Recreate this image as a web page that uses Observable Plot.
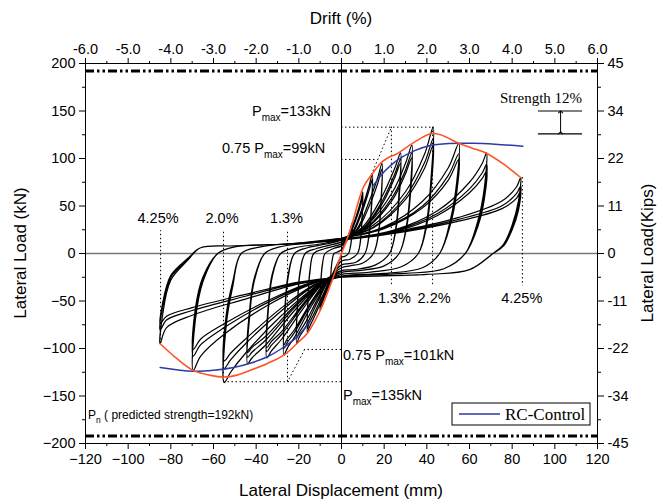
<!DOCTYPE html>
<html><head><meta charset="utf-8">
<script src="https://cdn.jsdelivr.net/npm/d3@7"></script>
<script src="https://cdn.jsdelivr.net/npm/@observablehq/plot@0.6"></script>
<style>body{margin:0;background:#fff} svg{display:block}</style>
</head><body><div id="chart"></div>
<script>
// ---------- axis ticks and labels ----------
const dispTicks = [-120,-100,-80,-60,-40,-20,0,20,40,60,80,100,120];
const dispMinor = [-110,-90,-70,-50,-30,-10,10,30,50,70,90,110];
const driftLabels = ["-6.0","-5.0","-4.0","-3.0","-2.0","-1.0","0.0","1.0","2.0","3.0","4.0","5.0","6.0"];
const loadTicks = [-200,-150,-100,-50,0,50,100,150,200];
const loadMinor = [-175,-125,-75,-25,25,75,125,175];
const kipLabels = ["-45","-34","-22","-11","0","11","22","34","45"];

// ---------- hysteresis loops (displacement mm, load kN), flat x,y pairs ----------
const loop5 = [0,4, 2,12, 4,24, 5,32, 4.8,18, 4,5, 3.3,0, 1.5,-3, 0,-4, -2,-12, -4,-22, -5,-30, -4.8,-16, -4.2,-5, -3.5,0, -1.5,2, 0,4,
  2,11, 4,22, 5,30, 4.8,17, 4,5, 3.3,0, 1.5,-3, 0,-4, -2,-11, -4,-21, -5,-28, -4.8,-15, -4.2,-5, -3.5,0, -1.5,2, 0,4];
const loop10 = [0,8, 3.5,20, 7,40, 9,55, 10,65, 9.6,38, 9,16, 7.5,0, 4,-6, 0,-8, -3,-18, -6,-35, -9,-52, -10,-60, -9.7,-32, -9,-13, -7.7,0, -4,5, 0,8,
  3.5,18, 7,37, 9,51, 10,60, 9.6,35, 9,15, 7.5,0, 4,-6, 0,-8, -3,-17, -6,-33, -9,-49, -10,-56, -9.7,-30, -9,-12, -7.7,0, -4,5, 0,8];
const loop15 = [0,10, 5,22, 10,50, 13,72, 14.5,84, 14,50, 13,22, 11,0, 7,-9, 2,-11, 0,-12, -4,-22, -8,-43, -13,-68, -15.3,-79, -16,-84, -15.6,-45, -14.8,-20, -13,0, -8,5, -3,8, 0,10,
  5,20, 10,46, 13,67, 14.5,78, 14,46, 13,20, 11,0, 7,-9, 2,-11, 0,-12, -4,-21, -8,-40, -13,-64, -15.3,-74, -16,-79, -15.6,-42, -14.8,-18, -13,0, -8,5, -3,8, 0,10];
const loop20 = [0,12, 7,25, 13,55, 17,80, 19,95, 18.5,55, 17.5,25, 15,0, 10,-10, 4,-13, 0,-15, -5,-25, -11,-50, -17,-78, -20,-89, -21,-95, -20.5,-50, -19.5,-22, -17,0, -12,5, -5,9, 0,12,
  7,23, 13,50, 17,74, 19,89, 18.5,52, 17.5,23, 15,0, 10,-10, 4,-13, 0,-15, -5,-24, -11,-47, -17,-73, -20,-84, -21,-89, -20.5,-47, -19.5,-20, -17,0, -12,5, -5,9, 0,12];
const loop27 = [0,14, 10,28, 19,60, 25,90, 27.7,106, 27,65, 25.5,28, 22.5,0, 16,-12, 6,-17, 0,-18, -6,-28, -14,-55, -22,-88, -25.5,-100, -27,-107, -26.4,-58, -25,-25, -22,0, -16,6, -7,10, 0,14,
  10,26, 19,55, 25,84, 27.7,99, 27,61, 25.5,26, 22.5,0, 16,-12, 6,-17, 0,-18, -6,-27, -14,-52, -22,-83, -25.5,-94, -27,-100, -26.4,-55, -25,-23, -22,0, -16,6, -7,10, 0,14,
  10,25, 19,52, 25,80, 27.7,95, 27,58, 25.5,25, 22.5,0, 16,-12, 6,-17, 0,-18, -6,-26, -14,-50, -22,-80, -25.5,-90, -27,-96, -26.4,-53, -25,-22, -22,0, -16,6, -7,10, 0,14];
const loop34 = [0,15, 12,30, 24,65, 30,95, 33,114, 32.3,70, 30.5,30, 27,0, 20,-13, 8,-18, 0,-20, -8,-30, -18,-58, -28,-90, -33,-103, -35,-110, -34.3,-60, -32.5,-25, -28.5,0, -22,6, -10,10, 0,15,
  12,28, 24,60, 30,88, 33,106, 32.3,65, 30.5,28, 27,0, 20,-13, 8,-18, 0,-20, -8,-29, -18,-55, -28,-85, -33,-97, -35,-103, -34.3,-56, -32.5,-23, -28.5,0, -22,6, -10,10, 0,15,
  12,27, 24,57, 30,84, 33,101, 32.3,62, 30.5,27, 27,0, 20,-13, 8,-18, 0,-20, -8,-28, -18,-53, -28,-82, -33,-93, -35,-99, -34.3,-54, -32.5,-22, -28.5,0, -22,6, -10,10, 0,15];
const loop43 = [0,16, 15,30, 30,65, 39,105, 43,133, 42,80, 40,35, 36,0, 28,-14, 12,-20, 0,-22, -10,-33, -22,-60, -35,-95, -42,-110, -44,-116, -43,-65, -41,-30, -36,0, -29,7, -15,11, 0,16,
  15,28, 30,60, 39,96, 43,121, 42,73, 40,32, 36,0, 28,-14, 12,-20, 0,-22, -10,-32, -22,-57, -35,-90, -42,-104, -44,-109, -43,-61, -41,-28, -36,0, -29,7, -15,11, 0,16,
  15,27, 30,57, 39,90, 43,114, 42,69, 40,30, 36,0, 28,-14, 12,-20, 0,-22, -10,-31, -22,-55, -35,-86, -42,-99, -44,-104, -43,-58, -41,-27, -36,0, -29,7, -15,11, 0,16];
const loop55 = [0,16, 20,28, 38,55, 50,90, 55,116, 54,75, 51,35, 46,0, 38,-15, 20,-21, 0,-24, -12,-35, -28,-65, -45,-105, -52,-125, -55,-136, -54,-75, -51,-35, -47,0, -38,7, -20,11, 0,16,
  20,27, 38,50, 50,82, 55,105, 54,68, 51,32, 46,0, 38,-15, 20,-21, 0,-24, -12,-33, -28,-60, -45,-95, -52,-112, -55,-121, -54,-68, -51,-32, -47,0, -38,7, -20,11, 0,16,
  20,26, 38,48, 50,77, 55,99, 54,64, 51,30, 46,0, 38,-15, 20,-21, 0,-24, -12,-32, -28,-57, -45,-90, -52,-105, -55,-113, -54,-64, -51,-30, -47,0, -38,7, -20,11, 0,16];
const loop68 = [0,15, 25,25, 45,45, 60,75, 66,95, 68,106, 67,70, 64,35, 58,0, 48,-16, 30,-21, 0,-24, -15,-33, -35,-55, -55,-85, -66,-108, -69.5,-123, -68.5,-70, -65,-30, -58,0, -50,7, -25,10, 0,15,
  25,24, 45,42, 60,68, 66,85, 68,94, 67,62, 64,31, 58,0, 48,-16, 30,-21, 0,-24, -15,-32, -35,-52, -55,-78, -66,-96, -69.5,-108, -68.5,-62, -65,-27, -58,0, -50,7, -25,10, 0,15,
  25,23, 45,40, 60,64, 66,79, 68,87, 67,58, 64,29, 58,0, 48,-16, 30,-21, 0,-24, -15,-31, -35,-50, -55,-74, -66,-90, -69.5,-101, -68.5,-58, -65,-25, -58,0, -50,7, -25,10, 0,15];
const loop85 = [0,14, 30,25, 55,38, 75,55, 82,70, 84,80, 83,56, 80,30, 76,10, 71,0, 60,-17, 40,-22, 0,-25, -20,-32, -45,-48, -70,-65, -82,-78, -85,-95, -84,-67, -80,-28, -72,-7, -66,6, -50,8, -25,10, 0,14,
  30,24, 55,36, 75,50, 82,63, 84,71, 83,50, 80,27, 76,9, 71,0, 60,-17, 40,-22, 0,-25, -20,-31, -45,-45, -70,-60, -82,-70, -85,-81, -84,-58, -80,-25, -72,-6, -66,6, -50,8, -25,10, 0,14,
  30,23, 55,34, 75,47, 82,58, 84,66, 83,46, 80,25, 76,8, 71,0, 60,-17, 40,-22, 0,-25, -20,-30, -45,-43, -70,-57, -82,-66, -85,-74, -84,-54, -80,-23, -72,-5, -66,6, -50,8, -25,10, 0,14];

// ---------- envelopes ----------
const envX = [-85,-77,-69.5,-62,-55,-49,-42.7,-35,-27,-21,-16,-10,-5,0,4,10.3,14.5,18.3,22,26,34,41.7,46.4,55,61,67.5,76,84];
const envY = [-95,-111,-123,-128,-130,-128,-123,-116,-107,-95,-84,-60,-32,0,24,70,84,95,101,105,117,126,125,116,111,106,94,80];
const ctrlNegX = [-85,-69.5,-60,-50.6,-42,-35,-28,-21,-14.5];
const ctrlNegY = [-120,-124,-123,-120,-115,-109,-100,-88,-71];
const ctrlPosX = [14.5,20,26,34,42,46,55,62,72,85];
const ctrlPosY = [70,86,98,108,114,115,116,116,115,113];

// ---------- annotation values ----------
const predictedStrength = 192;
const hDotY = [133, 99, -135, -101];
const hDotX2 = [42.7, 17, -55.3, -17.3];
const vDotX = [23.4, 42.7, 84.8, -25.3, -55.3, -84.8];
const vDotY1 = [133, 133, 80, -135, -135, -95];
const vDotY2 = [-34, -34, -34, 24, 24, 24];
const slopeX1 = [14, -17.3], slopeY1 = [83, -101], slopeX2 = [23.4, -25.3], slopeY2 = [133, -135];
const driftTextL = ["4.25%","2.0%","1.3%"], driftTextLX = [-86,-56,-25.8];
const driftTextR = ["1.3%","2.2%","4.25%"], driftTextRX = [24.8,43.4,84.5];
const strengthLines = [150, 126];

// ---------- build tables ----------
const loops = [["5",loop5],["10",loop10],["15",loop15],["20",loop20],["27",loop27],["34",loop34],["43",loop43],["55",loop55],["68",loop68],["85",loop85]];
const loopRows = loops.flatMap(([k, a]) => { const r = []; for (let i = 0; i < a.length; i += 2) r.push({k, x: a[i], y: a[i+1]}); return r; });
const envRows = envX.map((x, i) => ({x, y: envY[i]}));
const ctrlRows = [...ctrlNegX.map((x,i)=>({s:"n",x,y:ctrlNegY[i]})), ...ctrlPosX.map((x,i)=>({s:"p",x,y:ctrlPosY[i]}))];
const hDot = hDotY.map((y,i)=>({y, x1:0, x2:hDotX2[i]}));
const vDot = vDotX.map((x,i)=>({x, y1:vDotY1[i], y2:vDotY2[i]}));
const slopes = slopeX1.map((x,i)=>({x1:x, y1:slopeY1[i], x2:slopeX2[i], y2:slopeY2[i]}));
const dtl = driftTextL.map((t,i)=>({t, x:driftTextLX[i], y:37}));
const dtr = driftTextR.map((t,i)=>({t, x:driftTextRX[i], y:-47}));

const dots = "1.5,2.5";
const plot = Plot.plot({
  width: 667, height: 504,
  marginLeft: 85, marginRight: 70, marginTop: 63, marginBottom: 61,
  x: {domain: [-120, 120]},
  y: {domain: [-200, 200]},
  style: {fontFamily: "'Liberation Sans', Arial, sans-serif", fontSize: "14.5px", background: "white", color: "black"},
  marks: [
    Plot.ruleY([0], {stroke: "#777", strokeWidth: 1.6}),
    Plot.ruleX([0], {stroke: "black", strokeWidth: 1}),
    Plot.ruleY([predictedStrength, -predictedStrength], {stroke: "black", strokeWidth: 3, strokeDasharray: "9,3,2.5,3,2.5,3"}),
    Plot.ruleY(hDot, {y: "y", x1: "x1", x2: "x2", stroke: "black", strokeWidth: 1, strokeDasharray: dots}),
    Plot.ruleX(vDot, {x: "x", y1: "y1", y2: "y2", stroke: "black", strokeWidth: 1, strokeDasharray: dots}),
    Plot.link(slopes, {x1: "x1", y1: "y1", x2: "x2", y2: "y2", stroke: "black", strokeWidth: 1, strokeDasharray: dots}),
    Plot.line(loopRows, {x: "x", y: "y", z: "k", curve: "catmull-rom", stroke: "black", strokeWidth: 1.2}),
    Plot.line(ctrlRows, {x: "x", y: "y", z: "s", curve: "catmull-rom", stroke: "#2b3aa6", strokeWidth: 1.5}),
    Plot.line(envRows, {x: "x", y: "y", curve: "catmull-rom", stroke: "#ff5326", strokeWidth: 1.6}),
    Plot.text(dtl, {x: "x", y: "y", text: "t", fontSize: 14.5}),
    Plot.text(dtr, {x: "x", y: "y", text: "t", fontSize: 14.5}),
    Plot.ruleY(strengthLines, {x1: 92.3, x2: 113, stroke: "black", strokeWidth: 1.2}),
    Plot.link([{a: 1}], {x1: () => 102.7, x2: () => 102.7, y1: () => strengthLines[1] + 1, y2: () => strengthLines[0] - 1, stroke: "black", strokeWidth: 1, markerStart: "arrow", markerEnd: "arrow"}),
    Plot.frame({stroke: "black", strokeWidth: 1}),
    Plot.axisX({anchor: "bottom", ticks: dispTicks, tickSize: 6, tickPadding: 4, label: null}),
    Plot.axisX({anchor: "bottom", ticks: dispMinor, tickSize: 3, tickFormat: () => "", label: null}),
    Plot.axisX({anchor: "top", ticks: dispTicks, tickSize: 6, tickPadding: 4, tickFormat: d => driftLabels[dispTicks.indexOf(d)], label: null}),
    Plot.axisX({anchor: "top", ticks: dispMinor, tickSize: 3, tickFormat: () => "", label: null}),
    Plot.axisY({anchor: "left", ticks: loadTicks, tickSize: 6, tickPadding: 4, label: null}),
    Plot.axisY({anchor: "left", ticks: loadMinor, tickSize: 3, tickFormat: () => "", label: null}),
    Plot.axisY({anchor: "right", ticks: loadTicks, tickSize: 6, tickPadding: 4, tickFormat: d => kipLabels[loadTicks.indexOf(d)], label: null}),
    Plot.axisY({anchor: "right", ticks: loadMinor, tickSize: 3, tickFormat: () => "", label: null})
  ]
});
document.getElementById("chart").appendChild(plot);

// ---------- titles, annotations with subscripts, legend ----------
const svg = d3.select(plot);
const sans = "'Liberation Sans', Arial, sans-serif", serif = "'Liberation Serif', 'Times New Roman', serif";
function title(txt, x, y, rot) {
  svg.append("text").attr("transform", `translate(${x},${y}) rotate(${rot})`).attr("text-anchor", "middle")
    .attr("font-family", sans).attr("font-size", 17).attr("fill", "black").text(txt);
}
title("Lateral Displacement (mm)", 341, 496, 0);
title("Drift (%)", 341, 24, 0);
title("Lateral Load (kN)", 26, 253, -90);
title("Lateral Load(Kips)", 653, 253, -90);

function subText(x, y, pre, sub, post, fs, sfs, dy) {
  const t = svg.append("text").attr("x", x).attr("y", y).attr("text-anchor", "start").attr("font-family", sans).attr("font-size", fs).attr("fill", "black");
  t.append("tspan").text(pre);
  t.append("tspan").attr("font-size", sfs).attr("dy", dy).text(sub);
  t.append("tspan").attr("dy", -dy).text(post);
}
subText(252, 116, "P", "max", "=133kN", 14.5, 10, 5);
subText(222, 153, "0.75 P", "max", "=99kN", 14.5, 10, 5);
subText(343, 360, "0.75 P", "max", "=101kN", 14.5, 10, 5);
subText(343, 400, "P", "max", "=135kN", 14.5, 10, 5);
subText(88, 419, "P", "n", " ( predicted strength=192kN)", 12, 8.5, 4);

svg.append("text").attr("x", 500).attr("y", 103).attr("text-anchor", "start").attr("font-family", serif).attr("font-size", 15).attr("fill", "black").text("Strength 12%");

const lg = svg.append("g");
lg.append("rect").attr("x", 452).attr("y", 403).attr("width", 138).attr("height", 22).attr("fill", "white").attr("stroke", "black").attr("stroke-width", 1);
lg.append("line").attr("x1", 459).attr("x2", 500).attr("y1", 414).attr("y2", 414).attr("stroke", "#2b3aa6").attr("stroke-width", 1.5);
lg.append("text").attr("x", 505).attr("y", 420).attr("text-anchor", "start").attr("font-family", serif).attr("font-size", 17).attr("fill", "black").text("RC-Control");
</script></body></html>
